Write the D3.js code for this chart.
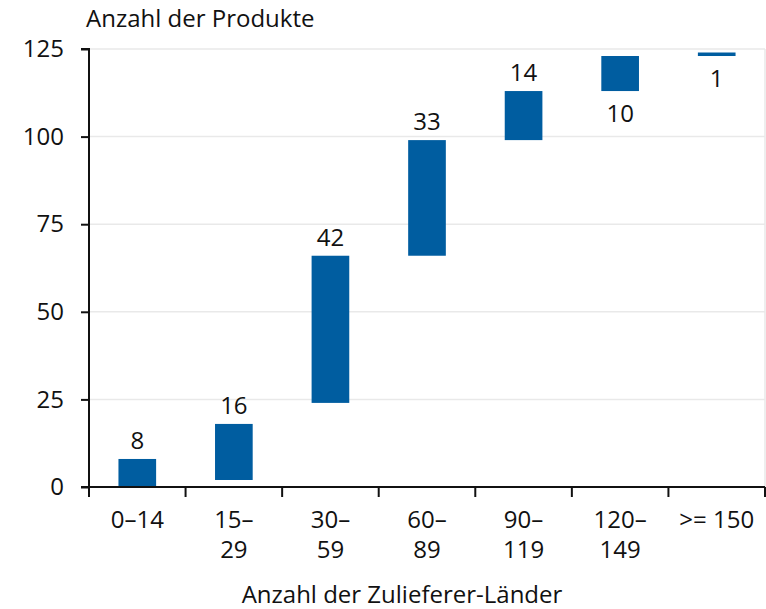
<!DOCTYPE html>
<html>
<head>
<meta charset="utf-8">
<script src="https://cdn.jsdelivr.net/npm/d3@7"></script>
<style>
  html, body { margin: 0; padding: 0; background: #fff; }
  svg text { font-family: "Open Sans", "Liberation Sans", sans-serif; fill: #111; }
</style>
</head>
<body>
<svg id="chart" width="766" height="609"></svg>
<script>
// ---- data ----
const categories = [["0–14"], ["15–", "29"], ["30–", "59"], ["60–", "89"], ["90–", "119"], ["120–", "149"], [">= 150"]];
const starts = [0, 2, 24, 66, 99, 113, 123];
const values = [8, 16, 42, 33, 14, 10, 1];
const labelSide = ["above", "above", "above", "above", "above", "below", "below"];
const yTicks = [0, 25, 50, 75, 100, 125];
const yTitle = "Anzahl der Produkte";
const xTitle = "Anzahl der Zulieferer-Länder";

// ---- layout ----
const svg = d3.select("#chart");
const pLeft = 89, pRight = 765, pTop = 49, pBottom = 487;
const barColor = "#005da0";
const fontSize = 24;

const x = d3.scaleBand().domain(d3.range(categories.length)).range([pLeft, pRight]).padding(0);
const y = d3.scaleLinear().domain([0, 125]).range([pBottom, pTop]);
const barW = x.bandwidth() * 0.39;

// gridlines
svg.append("g").selectAll("line").data(yTicks.filter(d => d > 0)).join("line")
  .attr("x1", pLeft).attr("x2", pRight)
  .attr("y1", d => y(d)).attr("y2", d => y(d))
  .attr("stroke", "#e9e9e9").attr("stroke-width", 1.5);
// right border
svg.append("line").attr("x1", pRight).attr("x2", pRight).attr("y1", y(125)).attr("y2", y(0))
  .attr("stroke", "#e9e9e9").attr("stroke-width", 1.5);

// bars
svg.append("g").selectAll("rect").data(values).join("rect")
  .attr("x", (d, i) => x(i) + x.bandwidth() / 2 - barW / 2)
  .attr("width", barW)
  .attr("y", (d, i) => y(starts[i] + d))
  .attr("height", (d, i) => y(starts[i]) - y(starts[i] + d))
  .attr("fill", barColor);

// bar labels
svg.append("g").selectAll("text").data(values).join("text")
  .attr("x", (d, i) => x(i) + x.bandwidth() / 2)
  .attr("y", (d, i) => labelSide[i] === "above" ? y(starts[i] + d) - 10 : y(starts[i]) + 31)
  .attr("text-anchor", "middle")
  .attr("font-size", fontSize)
  .text(d => d);

// y axis
const yAxis = svg.append("g").attr("transform", `translate(${pLeft},0)`)
  .call(d3.axisLeft(y).tickValues(yTicks).tickSize(8).tickPadding(17).tickFormat(d3.format("d")));
yAxis.select(".domain").attr("stroke", "#111").attr("stroke-width", 2).attr("d", `M-8,${y(125)}H0V${y(0)}`);
yAxis.selectAll(".tick line").attr("stroke", "#111").attr("stroke-width", 2);
yAxis.selectAll(".tick text").attr("font-size", fontSize).attr("font-family", null).attr("dy", "0.32em").style("fill", "#111");

// x axis
const bounds = d3.range(categories.length + 1).map(i => i < categories.length ? x(i) : pRight);
svg.append("line").attr("x1", pLeft - 8).attr("x2", pRight).attr("y1", pBottom).attr("y2", pBottom)
  .attr("stroke", "#111").attr("stroke-width", 2);
svg.append("g").selectAll("line").data(bounds).join("line")
  .attr("x1", d => d).attr("x2", d => d).attr("y1", pBottom).attr("y2", pBottom + 10)
  .attr("stroke", "#111").attr("stroke-width", 2);

const xl = svg.append("g").selectAll("text").data(categories).join("text")
  .attr("x", (d, i) => x(i) + x.bandwidth() / 2)
  .attr("y", pBottom + 41)
  .attr("text-anchor", "middle")
  .attr("font-size", fontSize);
xl.selectAll("tspan").data(d => d).join("tspan")
  .attr("x", function () { return d3.select(this.parentNode).attr("x"); })
  .attr("dy", (d, j) => j === 0 ? 0 : 30)
  .text(d => d);

// titles
svg.append("text").attr("x", 86).attr("y", 27).attr("font-size", fontSize).text(yTitle);
svg.append("text").attr("x", 402).attr("y", 603).attr("text-anchor", "middle").attr("font-size", fontSize).text(xTitle);
</script>
</body>
</html>
